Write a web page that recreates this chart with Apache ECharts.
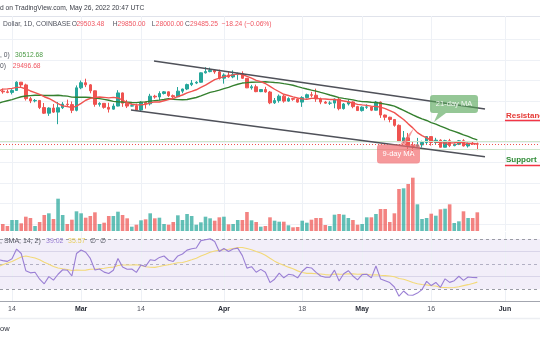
<!DOCTYPE html>
<html>
<head>
<meta charset="utf-8">
<script src="https://cdn.jsdelivr.net/npm/echarts@6/dist/echarts.min.js"></script>
<style>
  html, body { margin: 0; padding: 0; background: #ffffff; }
  #chart { width: 540px; height: 340px; }
</style>
</head>
<body>
<div id="chart"></div>
<script>
// BTC/USD daily candles, Coinbase, 11 Feb 2022 .. 26 May 2022 (x = days since 11 Feb)
const opens = [
  43550,42380,42200,42070,42540,44560,43890,40540,40000,40100,38370,37000,38250,37260,38330,39210,39100,37700,
  43180,44420,43900,42450,39150,39400,38420,37990,38740,41940,39440,38730,38810,37780,39670,39280,41140,40950,
  41800,42200,41270,41000,42370,42890,43960,44340,44540,46830,47130,47430,47060,
  45530,46300,45830,46400,46620,45500,43170,43440,42250,42760,42160,39520,40080,41150,39940,40550,40400,39700,
  40800,41500,41370,40480,39710,39450,39460,40430,38110,39240,39740,38600,
  37640,38470,38530,37730,39690,36550,36020,35470,34040,30080,31006.16,29030,28930,29280,29860,31300,29860,
  30420,28700,30300,29100,29430,30280,29021.39,29650,29503.48
];
const highs = [
  43920,42990,42750,42850,44770,44580,44190,40970,40460,40140,39480,38430,39250,39720,39700,40300,39860,43760,
  44950,45400,44100,42510,39680,39430,39540,39350,42600,42040,40240,39370,39310,39920,39870,41720,41480,42330,
  42400,42300,41550,43370,42960,44200,45080,44800,46920,48200,48100,47700,47600,
  46700,47200,47430,46890,47200,45500,43900,43970,42800,43430,42420,40700,41560,41500,40870,40700,40620,41120,
  41760,42200,42980,40800,39990,39920,40600,40790,39460,40370,39920,38800,
  38670,39170,38650,39980,39850,36660,36130,35500,34260,32660,32190,30030,30980,30300,31400,31310,31000,
  30650,30530,30750,29600,30470,30660,29830,30200,29850
];
const lows = [
  42000,41750,41870,41570,42430,43330,40080,39450,39640,38000,36800,36350,37040,34320,38010,38580,37020,37450,
  42850,43350,41850,38580,38610,38090,37160,37870,38660,38550,38250,38660,37600,37580,38120,38880,40540,40140,
  41550,40930,40500,40900,41850,42620,43600,44090,44430,46660,46960,46600,45210,
  44200,45630,45520,45120,45360,43120,42730,42110,42130,42000,39200,39250,39570,39560,39770,40020,39560,38540,
  40580,40850,39760,39190,39300,39000,38200,37700,37880,38870,38200,37580,
  37390,38050,37510,37680,35850,35260,34780,33710,30030,29730,27780,26700,28730,28630,29480,29100,29450,
  28650,28680,28740,28950,29230,28880,28620,29300,28000
];
const closes = [
  42380,42200,42070,42540,44560,43890,40540,40000,40100,38370,37000,38250,37260,38330,39210,39100,37700,43180,
  44420,43900,42450,39150,39400,38420,37990,38740,41940,39440,38730,38810,37780,39670,39280,41140,40950,41800,
  42200,41270,41000,42370,42890,43960,44340,44540,46830,47130,47430,47060,45530,
  46300,45830,46400,46620,45500,43170,43440,42250,42760,42160,39520,40080,41150,39940,40550,40400,39700,40800,
  41500,41370,40480,39710,39450,39460,40430,38110,39240,39740,38600,37640,
  38470,38530,37730,39690,36550,36020,35470,34040,30080,31006.16,29030,28930,29280,29860,31300,29860,30420,
  28700,30300,29100,29430,30280,29021.39,29650,29503.48,29485.25
];
// traded volume, thousand BTC
const volumes = [
  19.0,11.2,8.0,17.6,17.6,12.3,22.9,20.8,8.0,14.4,25.6,28.3,19.2,51.7,25.6,11.2,18.1,31.5,
  28.3,21.3,24.0,29.9,11.2,13.3,24.0,24.0,30.9,25.6,20.3,6.9,10.1,17.1,18.7,28.3,20.3,21.3,
  11.2,10.1,14.4,25.1,17.6,27.2,24.0,10.1,13.9,22.9,20.3,16.5,21.9,
  22.9,10.7,11.2,17.6,17.6,30.4,17.1,14.4,6.9,8.0,21.9,16.5,14.9,14.9,9.1,5.9,6.4,16.5,
  13.3,18.1,20.8,20.8,9.6,8.0,26.1,27.2,26.1,20.8,17.6,10.1,
  11.2,21.9,21.9,27.2,35.2,35.2,14.4,28.3,67.2,68.3,75.2,85.3,42.7,19.2,20.8,27.7,24.5,
  34.7,35.7,42.7,12.8,15.5,31.5,20.8,20.8,29.9
];
// daily closes 1 Jan .. 10 Feb 2022, feeding the moving averages and the RSI
const earlierCloses = [
  47738,47311,46446,45833,43432,43099,41551,41733,41864,41829,42736,43950,42592,43084,43181,43111,42250,42375,
  41690,40716,36470,35075,36277,36654,36957,36837,37160,37720,38170,37918,38483,38744,36945,37315,41570,41383,
  42410,43840,44080,44390,43530
];

// time scale ticks (day index) and their labels
const tickDays = [3, 18, 31, 49, 66, 79, 94, 110];
const tickLabels = ['14', 'Mar', '14', 'Apr', '18', 'May', '16', 'Jun'];
const priceTicks = [10000, 15000, 20000, 25000, 30000, 35000, 40000, 45000, 50000, 55000];

// chart drawings (day index, price)
const channelUpper = [[33.82, 49714], [105.67, 38021]];
const channelLower = [[28.83, 37778], [105.67, 26401]];
const zoneLines = [30050, 28200];
const resistanceLevel = 35220;
const supportLevel = 24380;
const levelStartDay = 110;
const ma21Anchor = [94.6, 34854];
const ma9Anchor = [90.26, 33393];

const FONT = "'Liberation Sans', Arial, sans-serif";
const UP = '#26a69a', DOWN = '#ef5350';

const X_MIN = 0.3953, X_MAX = 117.608;
const PRICE_MIN = 8302, PRICE_MAX = 60676;
const VOL_MAX = 344;
const RSI_MIN = 20.71, RSI_MAX = 75.48;

// ---- indicators ----
const allCloses = earlierCloses.concat(closes);
const offset = earlierCloses.length;
const average = a => a.reduce((s, v) => s + v, 0) / a.length;
const ma9 = closes.map((_, i) => [i, average(allCloses.slice(offset + i - 8, offset + i + 1))]);
const ma21 = closes.map((_, i) => [i, average(allCloses.slice(offset + i - 20, offset + i + 1))]);

const rsiAll = new Array(allCloses.length).fill(null);
let avgGain = 0, avgLoss = 0;
for (let k = 1; k < allCloses.length; k++) {
  const ch = allCloses[k] - allCloses[k - 1];
  const g = Math.max(ch, 0), l = Math.max(-ch, 0);
  if (k <= 14) {
    avgGain += g / 14; avgLoss += l / 14;
    if (k === 14) rsiAll[k] = 100 - 100 / (1 + avgGain / avgLoss);
  } else {
    avgGain = (avgGain * 13 + g) / 14;
    avgLoss = (avgLoss * 13 + l) / 14;
    rsiAll[k] = avgLoss === 0 ? 100 : 100 - 100 / (1 + avgGain / avgLoss);
  }
}
const rsi = closes.map((_, i) => [i, rsiAll[offset + i]]);
const rsiMa = closes.map((_, i) => [i, average(rsiAll.slice(offset + i - 13, offset + i + 1))]);

const candles = closes.map((c, i) => [i, opens[i], c, lows[i], highs[i]]);
const volumeData = volumes.map((v, i) => ({
  value: [i, v],
  itemStyle: { color: closes[i] >= opens[i] ? 'rgba(38,166,154,0.72)' : 'rgba(239,83,80,0.72)' }
}));

const gridLine = { color: '#eef1f6', width: 1, type: 'solid' };
const noSym = ['none', 'none'];

const chart = echarts.init(document.getElementById('chart'), null, { width: 540, height: 340 });

function headerText(x, y, text, fill, size) {
  return { type: 'text', x: x, y: y, z: 10, style: { text: text, font: size + 'px ' + FONT, fill: fill, verticalAlign: 'middle' } };
}

const HF = 6.7;
const staticGraphics = [
  { type: 'line', shape: { x1: 0, y1: 16.5, x2: 540, y2: 16.5 }, style: { stroke: '#e0e3eb', lineWidth: 1 } },
  { type: 'line', shape: { x1: 0, y1: 318.5, x2: 540, y2: 318.5 }, style: { stroke: '#eceef2', lineWidth: 1.5 } },
  headerText(0, 8.5, 'd on TradingView.com, May 26, 2022 20:47 UTC', '#3a3d46', HF),
  headerText(3, 24.5, 'Dollar, 1D, COINBASE', '#50535e', HF),
  headerText(71.7, 24.5, 'O', '#50535e', HF),
  headerText(76.4, 24.5, '29503.48', '#f05560', HF),
  headerText(112.7, 24.5, 'H', '#50535e', HF),
  headerText(117.6, 24.5, '29850.00', '#f05560', HF),
  headerText(151.7, 24.5, 'L', '#50535e', HF),
  headerText(155.7, 24.5, '28000.00', '#f05560', HF),
  headerText(185, 24.5, 'C', '#50535e', HF),
  headerText(190, 24.5, '29485.25', '#f05560', HF),
  headerText(221.7, 24.5, '\u221218.24 (\u22120.06%)', '#f05560', HF),
  headerText(0, 55, ', 0)', '#50535e', HF),
  headerText(15, 55, '30512.68', '#4a9a44', HF),
  headerText(0, 66, '0)', '#50535e', HF),
  headerText(12.7, 66, '29496.68', '#f05560', HF),
  headerText(0, 241, ', SMA, 14, 2)', '#50535e', 7),
  headerText(46, 241, '39.02', '#9a7fd4', 7),
  headerText(68, 241, '35.57', '#e8cf62', 7),
  headerText(90, 241, '\u2205  \u2205', '#50535e', 7),
  headerText(0, 329, 'ow', '#2a2e39', 7.5)
];

const option = {
  animation: false,
  backgroundColor: '#ffffff',
  textStyle: { fontFamily: FONT },
  grid: [
    { left: 0, right: 0, top: 16, height: 215 },
    { left: 0, right: 0, top: 232, height: 69 }
  ],
  xAxis: [
    { type: 'value', gridIndex: 0, min: X_MIN, max: X_MAX, show: false },
    {
      type: 'value', gridIndex: 1, min: X_MIN, max: X_MAX,
      axisLine: { show: true, onZero: false, lineStyle: { color: '#a3a6af', width: 1 } },
      axisTick: { show: false },
      splitLine: { show: false },
      axisLabel: {
        customValues: tickDays,
        margin: 5,
        fontSize: 7,
        fontFamily: FONT,
        formatter: v => {
          const t = tickLabels[tickDays.indexOf(Math.round(v))];
          return /^[A-Z]/.test(t) ? '{m|' + t + '}' : '{d|' + t + '}';
        },
        rich: {
          m: { fontSize: 7, fontWeight: 'bold', color: '#2a2e39', fontFamily: FONT },
          d: { fontSize: 7, color: '#50535e', fontFamily: FONT }
        }
      }
    }
  ],
  yAxis: [
    { type: 'value', gridIndex: 0, min: PRICE_MIN, max: PRICE_MAX, show: false, splitLine: { show: false } },
    { type: 'value', gridIndex: 0, min: 0, max: VOL_MAX, show: false, splitLine: { show: false } },
    { type: 'value', gridIndex: 1, min: RSI_MIN, max: RSI_MAX, show: false, splitLine: { show: false } }
  ],
  series: [
    {
      name: 'price grid', type: 'line', xAxisIndex: 0, yAxisIndex: 0, data: [], silent: true,
      markLine: {
        z: 0, silent: true, symbol: noSym, label: { show: false }, lineStyle: gridLine,
        data: tickDays.map(d => ({ xAxis: d })).concat(priceTicks.map(p => ({ yAxis: p })))
      }
    },
    {
      name: 'Volume', type: 'bar', xAxisIndex: 0, yAxisIndex: 1, z: 1,
      barWidth: 3.6, data: volumeData
    },
    {
      name: 'BTCUSD', type: 'candlestick', xAxisIndex: 0, yAxisIndex: 0, z: 3,
      barWidth: 3,
      encode: { x: 0, y: [1, 2, 3, 4] },
      itemStyle: { color: UP, color0: DOWN, borderColor: UP, borderColor0: DOWN, borderWidth: 1 },
      data: candles
    },
    {
      name: 'MA 21', type: 'line', xAxisIndex: 0, yAxisIndex: 0, z: 4, symbol: 'none',
      lineStyle: { color: '#35802f', width: 1.4 }, data: ma21
    },
    {
      name: 'MA 9', type: 'line', xAxisIndex: 0, yAxisIndex: 0, z: 4, symbol: 'none',
      lineStyle: { color: '#f05350', width: 1.4 }, data: ma9
    },
    {
      name: 'drawings', type: 'line', xAxisIndex: 0, yAxisIndex: 0, data: [], silent: true,
      markLine: {
        z: 5, silent: true, symbol: noSym, label: { show: false },
        data: [
          ...zoneLines.map(p => ({ yAxis: p, lineStyle: { color: '#cfe6cc', width: 1, type: 'solid' } })),
          { yAxis: closes[closes.length - 1], lineStyle: { color: '#ef5350', width: 1, type: [1, 2] } },
          [{ coord: channelUpper[0], lineStyle: { color: '#4f5159', width: 1.4, type: 'solid' } }, { coord: channelUpper[1] }],
          [{ coord: channelLower[0], lineStyle: { color: '#4f5159', width: 1.4, type: 'solid' } }, { coord: channelLower[1] }],
          [{
            coord: [levelStartDay, resistanceLevel],
            lineStyle: { color: '#f23645', width: 1.4, type: 'solid' },
            label: {
              show: true, position: 'insideStartTop', formatter: 'Resistance', distance: 1,
              color: '#e53935', fontWeight: 'bold', fontSize: 8, fontFamily: FONT
            }
          }, { coord: [X_MAX, resistanceLevel] }],
          [{
            coord: [levelStartDay, supportLevel],
            lineStyle: { color: '#f23645', width: 1.4, type: 'solid' },
            label: {
              show: true, position: 'insideStartTop', formatter: 'Support', distance: 1,
              color: '#2e8b35', fontWeight: 'bold', fontSize: 8, fontFamily: FONT
            }
          }, { coord: [X_MAX, supportLevel] }]
        ]
      }
    },
    {
      name: 'rsi frame', type: 'line', xAxisIndex: 1, yAxisIndex: 2, data: [], silent: true,
      markArea: {
        silent: true, itemStyle: { color: 'rgba(126,87,194,0.1)' },
        data: [[{ yAxis: 70 }, { yAxis: 30 }]]
      },
      markLine: {
        z: 1, silent: true, symbol: noSym, label: { show: false },
        data: [
          ...tickDays.map(d => ({ xAxis: d, lineStyle: gridLine })),
          { yAxis: 60, lineStyle: { color: 'rgba(200,196,222,0.6)', width: 1, type: 'solid' } },
          { yAxis: 40, lineStyle: { color: 'rgba(200,196,222,0.6)', width: 1, type: 'solid' } },
          { yAxis: 70, lineStyle: { color: '#9a9ca5', width: 1, type: [3, 3] } },
          { yAxis: 50, lineStyle: { color: '#b2b0c4', width: 1, type: [3, 3] } },
          { yAxis: 30, lineStyle: { color: '#9a9ca5', width: 1, type: [3, 3] } }
        ]
      }
    },
    {
      name: 'RSI-based MA', type: 'line', xAxisIndex: 1, yAxisIndex: 2, z: 3, symbol: 'none',
      lineStyle: { color: '#f3d977', width: 1.1 }, data: rsiMa
    },
    {
      name: 'RSI', type: 'line', xAxisIndex: 1, yAxisIndex: 2, z: 4, symbol: 'none',
      lineStyle: { color: '#9a7fd4', width: 1.1 }, data: rsi
    }
  ],
  graphic: staticGraphics
};

chart.setOption(option);

// MA callouts, anchored on the averages through the price scale
function callouts() {
  const t21 = chart.convertToPixel({ gridIndex: 0 }, ma21Anchor);
  const t9 = chart.convertToPixel({ gridIndex: 0 }, ma9Anchor);
  const green = 'rgba(84,164,86,0.62)';
  const pink = 'rgba(242,104,108,0.68)';
  return [
    { type: 'rect', z: 20, shape: { x: t21[0] - 4, y: t21[1] - 27, width: 48, height: 18, r: 3 }, style: { fill: green } },
    { type: 'polygon', z: 20, shape: { points: [[t21[0] + 4, t21[1] - 9], [t21[0] + 12, t21[1] - 9], [t21[0], t21[1]]] }, style: { fill: green } },
    { type: 'text', z: 21, x: t21[0] + 20, y: t21[1] - 18, style: { text: '21-day MA', font: '7.5px ' + FONT, fill: '#f2f8f2', align: 'center', verticalAlign: 'middle' } },
    { type: 'rect', z: 20, shape: { x: t9[0] - 37, y: t9[1] + 16.5, width: 43, height: 19, r: 3 }, style: { fill: pink } },
    { type: 'polygon', z: 20, shape: { points: [[t9[0] - 14, t9[1] + 16.5], [t9[0] - 8, t9[1] + 16.5], [t9[0], t9[1]]] }, style: { fill: pink } },
    { type: 'text', z: 21, x: t9[0] - 15.5, y: t9[1] + 26, style: { text: '9-day MA', font: '7.5px ' + FONT, fill: '#ffffff', align: 'center', verticalAlign: 'middle' } }
  ];
}
option.graphic = staticGraphics.concat(callouts());
chart.setOption(option, true);
</script>
</body>
</html>
